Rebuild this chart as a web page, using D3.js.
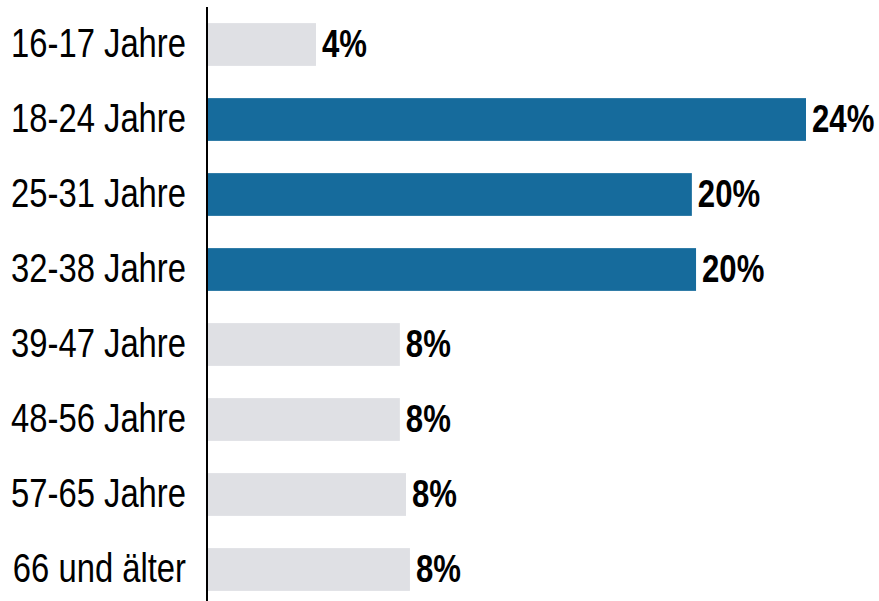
<!DOCTYPE html>
<html>
<head>
<meta charset="utf-8">
<script src="https://cdn.jsdelivr.net/npm/d3@7"></script>
<style>
    body { margin: 0; background: #fff; }
    text { font-family: "Liberation Sans", Arial, sans-serif; }
</style>
</head>
<body>
<div id="chart"></div>
<script>
// Altersgruppen
let categories = ['16-17 Jahre', '18-24 Jahre', '25-31 Jahre', '32-38 Jahre',
    '39-47 Jahre', '48-56 Jahre', '57-65 Jahre', '66 und älter'];
// Anteile in %, aus der Balkenlänge geschätzt
let values = [4.39, 24.31, 19.67, 19.84, 7.80, 7.80, 8.05, 8.21];
// hervorgehobene Gruppen
let highlighted = ['18-24 Jahre', '25-31 Jahre', '32-38 Jahre'];

let width = 879, height = 601;
// schmale Schrift: Liberation Sans horizontal gestaucht
let narrow = 0.82;

let svg = d3.select('#chart').append('svg')
    .attr('width', width)
    .attr('height', height);

let data = categories.map((c, i) => ({name: c, value: values[i]}));

//比例尺
let x = d3.scaleLinear()
    .domain([0, d3.max(values)])
    .range([208, 806]);
let y = d3.scaleBand()
    .domain(categories)
    .range([7, 607])
    .paddingInner(0.43)
    .paddingOuter(0.215);

//柱子
svg.selectAll('rect.bar')
    .data(data)
    .enter()
    .append('rect')
    .attr('class', 'bar')
    .attr('x', x(0))
    .attr('y', d => y(d.name))
    .attr('width', d => x(d.value) - x(0))
    .attr('height', y.bandwidth())
    .style('fill', d => highlighted.includes(d.name) ? '#166b9c' : '#dfe0e4');

//数值标签
svg.selectAll('text.value')
    .data(data)
    .enter()
    .append('text')
    .attr('class', 'value')
    .attr('transform', d => `translate(${x(d.value) + 6},${y(d.name) + y.bandwidth() / 2 + 12}) scale(${narrow},1)`)
    .style('font-size', '38px')
    .style('font-weight', 'bold')
    .style('fill', '#000')
    .text(d => Math.round(d.value) + '%');

//y轴
let axis = svg.append('g')
    .attr('transform', 'translate(207,0)')
    .call(d3.axisLeft(y).tickSize(0).tickPadding(21));
axis.select('.domain').remove();
axis.append('line')
    .attr('x1', 0).attr('x2', 0)
    .attr('y1', 7).attr('y2', height)
    .style('stroke', '#000')
    .style('stroke-width', 2);
axis.selectAll('.tick text')
    .attr('dy', null)
    .attr('x', -21 / narrow)
    .attr('y', 12)
    .attr('transform', `scale(${narrow},1)`)
    .style('font-size', '40px')
    .style('font-family', '"Liberation Sans", Arial, sans-serif')
    .style('fill', '#000');
</script>
</body>
</html>
